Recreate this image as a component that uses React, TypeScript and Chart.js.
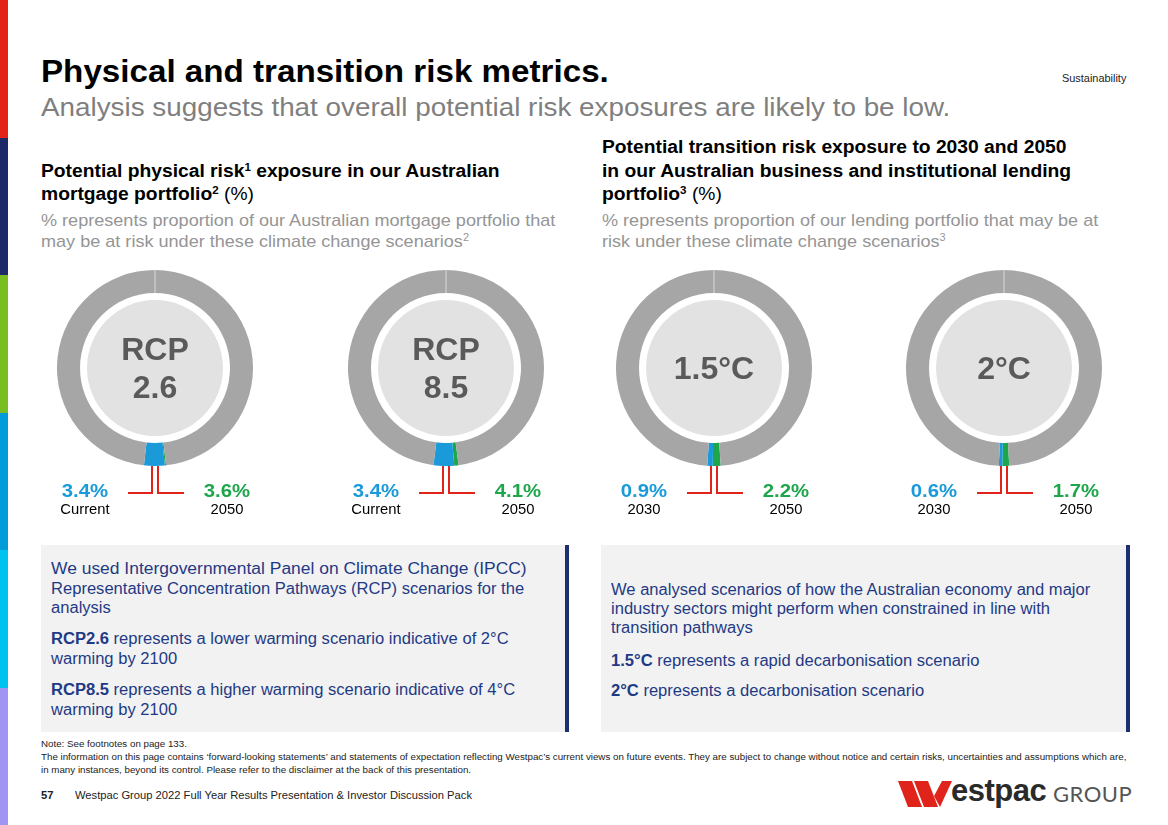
import React, { useEffect, useRef } from "react";
import Chart from "chart.js/auto";

const scenarioNames = ["RCP\n2.6", "RCP\n8.5", "1.5°C", "2°C"];
const firstValues = [3.4, 3.4, 0.9, 0.6];
const secondValues = [3.6, 4.1, 2.2, 1.7];
const firstLabels = ["Current", "Current", "2030", "2030"];
const secondLabels = ["2050", "2050", "2050", "2050"];
const centersX = [155, 446, 714, 1004];
const centerY = 368;

const FONT = '"Liberation Sans", Arial, Helvetica, sans-serif';
const BLUE = "#1a9ad8";
const GREEN = "#1ea64b";
const GRAY = "#a6a6a6";
const NAVY = "#1f3a85";
const RED = "#e0231b";
const OUTER = 98;

const ringPlugin = {
  id: "ringDecor",
  beforeDatasetsDraw(chart: any) {
    const arc = chart.getDatasetMeta(0).data[0];
    if (!arc) return;
    const { x, y, innerRadius } = arc.getProps(["x", "y", "innerRadius"], true);
    const ctx = chart.ctx;
    ctx.save();
    ctx.fillStyle = "#e2e2e2";
    ctx.beginPath();
    ctx.arc(x, y, innerRadius - 7, 0, Math.PI * 2);
    ctx.fill();
    ctx.restore();
  },
  afterDatasetsDraw(chart: any, _a: any, opts: any) {
    const arc = chart.getDatasetMeta(0).data[0];
    if (!arc) return;
    const { x, y, outerRadius } = arc.getProps(["x", "y", "outerRadius"], true);
    const ctx = chart.ctx;
    ctx.save();
    ctx.strokeStyle = "#d9d9d9";
    ctx.lineWidth = 1;
    ctx.beginPath();
    ctx.moveTo(x, y - outerRadius);
    ctx.lineTo(x, y - outerRadius + 23);
    ctx.stroke();
    const lines: string[] = String(opts.label || "").split("\n");
    ctx.fillStyle = "#5a5a5a";
    ctx.font = `bold 32px ${FONT}`;
    ctx.textAlign = "center";
    ctx.textBaseline = "middle";
    const lh = 38;
    lines.forEach((ln, i) => {
      ctx.fillText(ln, x, y + (i - (lines.length - 1) / 2) * lh + 2);
    });
    ctx.strokeStyle = RED;
    ctx.lineWidth = 2;
    const top = y + outerRadius;
    const bot = top + 27;
    ctx.beginPath();
    ctx.moveTo(x - 3, top);
    ctx.lineTo(x - 3, bot);
    ctx.lineTo(x - 27, bot);
    ctx.moveTo(x + 3, top);
    ctx.lineTo(x + 3, bot);
    ctx.lineTo(x + 29, bot);
    ctx.stroke();
    ctx.restore();
  },
};

function Ring({ idx }: { idx: number }) {
  const ref = useRef<HTMLCanvasElement>(null);
  useEffect(() => {
    if (!ref.current) return;
    const a = firstValues[idx];
    const b = secondValues[idx];
    const chart = new Chart(ref.current, {
      type: "doughnut",
      data: {
        labels: [secondLabels[idx], firstLabels[idx], "Other"],
        datasets: [
          {
            data: [b - a, a, 100 - b],
            backgroundColor: [GREEN, BLUE, GRAY],
            borderWidth: 0,
          },
        ],
      },
      options: {
        responsive: false,
        animation: false,
        cutout: "76.5%",
        rotation: 180 - (b * 3.6) / 2,
        layout: { padding: { top: 0, left: 0, right: 0, bottom: 34 } },
        plugins: {
          legend: { display: false },
          tooltip: { enabled: false },
          ringDecor: { label: scenarioNames[idx] },
        } as any,
      },
      plugins: [ringPlugin as any],
    });
    return () => chart.destroy();
  }, [idx]);
  return (
    <canvas
      ref={ref}
      width={OUTER * 2}
      height={OUTER * 2 + 34}
      style={{ position: "absolute", left: centersX[idx] - OUTER, top: centerY - OUTER, width: OUTER * 2, height: OUTER * 2 + 34 }}
    />
  );
}

function T({ x, b, f, color = "#000", w = 400, children, cx, sx = 1.07 }: any) {
  const style: any = {
    position: "absolute",
    top: b - 0.8465 * f,
    fontSize: f,
    lineHeight: `${f}px`,
    color,
    fontWeight: w,
    whiteSpace: "nowrap",
    fontFamily: FONT,
    transform: `scaleX(${sx})`,
  };
  if (cx !== undefined) {
    style.left = cx - 100;
    style.width = 200;
    style.textAlign = "center";
    style.transformOrigin = "50% 50%";
  } else {
    style.left = x;
    style.transformOrigin = "0 50%";
  }
  return <div style={style}>{children}</div>;
}

const sup = (s: string) => (
  <span style={{ fontSize: "0.6em", verticalAlign: "0.6em", lineHeight: 0 }}>{s}</span>
);

const stripe = ["#e2231a", "#1c2a68", "#78be20", "#009bd9", "#00c2f0", "#a095f2"];
const BX = 1.035;

export default function App() {
  return (
    <div style={{ position: "absolute", left: 0, top: 0, width: 1168, height: 825, background: "#fff", overflow: "hidden", fontFamily: FONT }}>
      {stripe.map((c, i) => (
        <div key={i} style={{ position: "absolute", left: 0, top: Math.round((i * 825) / 6), width: 8, height: Math.ceil(825 / 6) + 1, background: c }} />
      ))}

      <T x={41} b={82} f={31} w={700}>Physical and transition risk metrics.</T>
      <T x={41} b={116} f={26} color="#7f7f7f">Analysis suggests that overall potential risk exposures are likely to be low.</T>
      <T x={1062} b={82} f={10.5} color="#222" sx={1.04}>Sustainability</T>

      <T x={41} b={177} f={18} w={700}>Potential physical risk{sup("1")} exposure in our Australian</T>
      <T x={41} b={200} f={18} w={700}>mortgage portfolio{sup("2")} <span style={{ fontWeight: 400 }}>(%)</span></T>
      <T x={41} b={226} f={17} color="#959595" sx={1.063}>% represents proportion of our Australian mortgage portfolio that</T>
      <T x={41} b={247} f={17} color="#959595" sx={1.063}>may be at risk under these climate change scenarios{sup("2")}</T>

      <T x={602} b={153} f={18} w={700}>Potential transition risk exposure to 2030 and 2050</T>
      <T x={602} b={177} f={18} w={700}>in our Australian business and institutional lending</T>
      <T x={602} b={200} f={18} w={700}>portfolio{sup("3")} <span style={{ fontWeight: 400 }}>(%)</span></T>
      <T x={602} b={226} f={17} color="#959595" sx={1.063}>% represents proportion of our lending portfolio that may be at</T>
      <T x={602} b={247} f={17} color="#959595" sx={1.063}>risk under these climate change scenarios{sup("3")}</T>

      {centersX.map((_, i) => (
        <Ring key={i} idx={i} />
      ))}
      {centersX.map((cx, i) => (
        <React.Fragment key={"l" + i}>
          <T cx={cx - 70} b={497} f={19} w={700} color={BLUE}>{firstValues[i].toFixed(1)}%</T>
          <T cx={cx + 72} b={497} f={19} w={700} color={GREEN}>{secondValues[i].toFixed(1)}%</T>
          <T cx={cx - 70} b={514} f={14.5} sx={1.02}>{firstLabels[i]}</T>
          <T cx={cx + 72} b={514} f={14.5} sx={1.02}>{secondLabels[i]}</T>
        </React.Fragment>
      ))}

      <div style={{ position: "absolute", left: 41, top: 545, width: 524, height: 187, background: "#f2f2f2" }} />
      <div style={{ position: "absolute", left: 565, top: 545, width: 4, height: 187, background: "#1c2f6e" }} />
      <div style={{ position: "absolute", left: 601, top: 545, width: 525, height: 187, background: "#f2f2f2" }} />
      <div style={{ position: "absolute", left: 1126, top: 545, width: 4, height: 187, background: "#1c2f6e" }} />

      <T x={51} b={575} f={16} color={NAVY} sx={1.09}>We used Intergovernmental Panel on Climate Change (IPCC)</T>
      <T x={51} b={595} f={16} color={NAVY} sx={BX}>Representative Concentration Pathways (RCP) scenarios for the</T>
      <T x={51} b={614} f={16} color={NAVY} sx={BX}>analysis</T>
      <T x={51} b={645} f={16} color={NAVY} sx={BX}><b>RCP2.6</b> represents a lower warming scenario indicative of 2°C</T>
      <T x={51} b={665} f={16} color={NAVY} sx={BX}>warming by 2100</T>
      <T x={51} b={696} f={16} color={NAVY} sx={BX}><b>RCP8.5</b> represents a higher warming scenario indicative of 4°C</T>
      <T x={51} b={716} f={16} color={NAVY} sx={BX}>warming by 2100</T>

      <T x={611} b={596} f={16} color={NAVY} sx={BX}>We analysed scenarios of how the Australian economy and major</T>
      <T x={611} b={615} f={16} color={NAVY} sx={BX}>industry sectors might perform when constrained in line with</T>
      <T x={611} b={634} f={16} color={NAVY} sx={BX}>transition pathways</T>
      <T x={611} b={667} f={16} color={NAVY} sx={BX}><b>1.5°C</b> represents a rapid decarbonisation scenario</T>
      <T x={611} b={697} f={16} color={NAVY} sx={BX}><b>2°C</b> represents a decarbonisation scenario</T>

      <T x={41} b={748} f={9.2} color="#222" sx={1.062}>Note: See footnotes on page 133.</T>
      <T x={41} b={761} f={9.2} color="#222" sx={1.062}>The information on this page contains ‘forward-looking statements’ and statements of expectation reflecting Westpac’s current views on future events. They are subject to change without notice and certain risks, uncertainties and assumptions which are,</T>
      <T x={41} b={774} f={9.2} color="#222" sx={1.062}>in many instances, beyond its control. Please refer to the disclaimer at the back of this presentation.</T>

      <T x={41} b={799} f={10.5} w={700} color="#222">57</T>
      <T x={75} b={799} f={10.5} color="#222" sx={1.065}>Westpac Group 2022 Full Year Results Presentation &amp; Investor Discussion Pack</T>

      <svg style={{ position: "absolute", left: 896, top: 776, width: 240, height: 36 }} viewBox="0 0 240 36">
        <polygon points="2,5 16,5 26,31 12,31" fill={RED} />
        <polygon points="18,5 32,5 42,31 28,31" fill={RED} />
        <polygon points="38,20 46,5 56,5 44,31" fill={RED} />
      </svg>
      <div style={{ position: "absolute", left: 951, top: 775, fontSize: 31, lineHeight: "31px", fontWeight: 700, color: "#2a2a2a", fontFamily: FONT, letterSpacing: -0.5 }}>estpac</div>
      <div style={{ position: "absolute", left: 1053, top: 783, fontSize: 22, lineHeight: "22px", fontWeight: 400, color: "#555", fontFamily: '"Lato", "Open Sans", sans-serif', letterSpacing: 0.5 }}>GROUP</div>
    </div>
  );
}
